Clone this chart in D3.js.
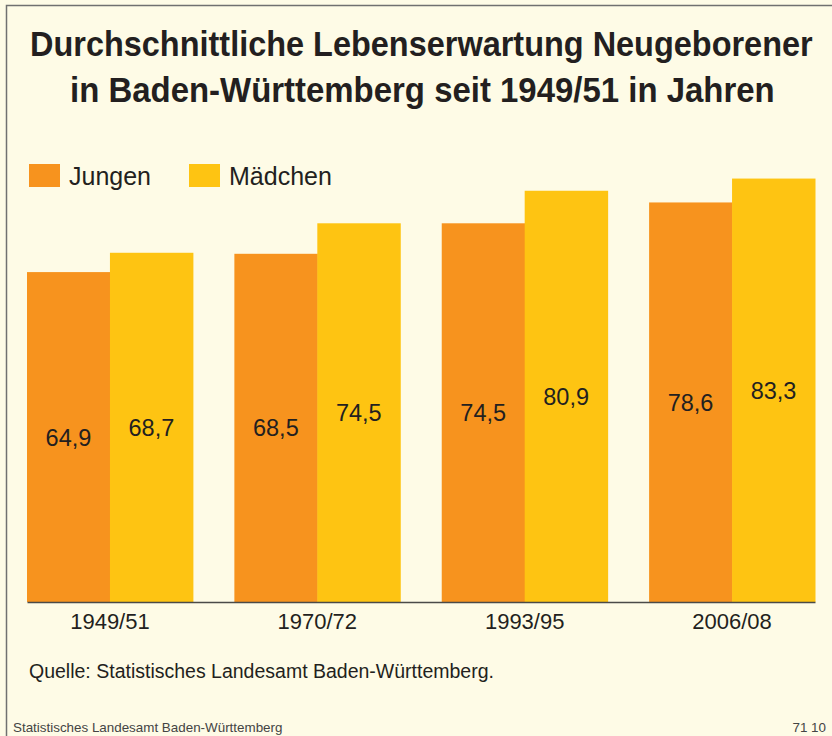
<!DOCTYPE html>
<html>
<head>
<meta charset="utf-8">
<script src="https://cdn.jsdelivr.net/npm/d3@7"></script>
<style>
  html, body { margin: 0; padding: 0; background: #fefbe6; }
  svg { display: block; font-family: "Liberation Sans", Arial, Helvetica, sans-serif; }
</style>
</head>
<body>
<div id="chart"></div>
<script>
// data
var periods = ["1949/51", "1970/72", "1993/95", "2006/08"];
var jungen = [64.9, 68.5, 74.5, 78.6];
var maedchen = [68.7, 74.5, 80.9, 83.3];
var seriesNames = ["Jungen", "Mädchen"];
var seriesColors = ["#f7931e", "#fec412"];
var titleLines = ["Durchschnittliche Lebenserwartung Neugeborener",
	"in Baden-Württemberg seit 1949/51 in Jahren"];

var W = 832, H = 736;

var svg = d3.select("#chart").append("svg")
	.attr("width", W)
	.attr("height", H);

// background + the grey frame (top and left only)
svg.append("rect").attr("width", W).attr("height", H).attr("fill", "#fefbe6");
svg.append("path")
	.attr("d", "M6.5," + H + "V5.5H" + W)
	.attr("fill", "none")
	.attr("stroke", "#707070")
	.attr("stroke-width", 1.5);

// title: bold, squeezed horizontally to look like the condensed face
var titleSpan = [[30, 813, 56], [70, 775, 102]]; // left, right, baseline
svg.append("g").attr("class", "title")
	.selectAll("text").data(titleLines).enter().append("text")
	.attr("x", 0).attr("y", 0)
	.style("font-size", "34.5px").style("font-weight", "bold").attr("fill", "#231f20")
	.text(function(d) { return d; })
	.each(function(d, i) {
		var s = titleSpan[i];
		var w = this.getComputedTextLength();
		var k = (s[1] - s[0]) / w;
		d3.select(this).attr("transform", "translate(" + s[0] + "," + s[2] + ") scale(" + k + ",1)");
	});

// legend
var legendX = [29, 189];
var legend = svg.append("g").attr("class", "legend")
	.selectAll("g").data(seriesNames).enter().append("g")
	.attr("transform", function(d, i) { return "translate(" + legendX[i] + ",164)"; });
legend.append("rect")
	.attr("width", 31).attr("height", 23)
	.attr("fill", function(d, i) { return seriesColors[i]; });
legend.append("text")
	.attr("x", 40).attr("y", 21)
	.style("font-size", "25px").attr("fill", "#231f20")
	.text(function(d) { return d; });

// scales
var x0 = d3.scaleBand().domain(periods).range([27, 815]).paddingInner(0.2).paddingOuter(0);
var x1 = d3.scaleBand().domain(seriesNames).range([0, x0.bandwidth()]);
var y = d3.scaleLinear().domain([0, 90]).range([602, 144.5]);

var rows = periods.map(function(p, i) {
	return { period: p, values: [jungen[i], maedchen[i]] };
});

var groups = svg.append("g").attr("class", "bars")
	.selectAll("g").data(rows).enter().append("g")
	.attr("transform", function(d) { return "translate(" + x0(d.period) + ",0)"; });

var bars = groups.selectAll("g").data(function(d) {
		return d.values.map(function(v, i) { return { name: seriesNames[i], value: v, i: i }; });
	}).enter().append("g");

bars.append("rect")
	.attr("x", function(d) { return x1(d.name); })
	.attr("y", function(d) { return y(d.value); })
	.attr("width", x1.bandwidth() + 0.5) // tiny overlap so no seam between the pair
	.attr("height", function(d) { return y(0) - y(d.value); })
	.attr("fill", function(d) { return seriesColors[d.i]; });

// value labels sit in the middle of each bar
bars.append("text")
	.attr("x", function(d) { return x1(d.name) + x1.bandwidth() / 2; })
	.attr("y", function(d) { return (y(0) + y(d.value)) / 2 + 8.5; })
	.attr("text-anchor", "middle")
	.style("font-size", "23.5px").attr("fill", "#231f20")
	.text(function(d) { return d3.format(".1f")(d.value).replace(".", ","); });

// x axis
var xAxis = d3.axisBottom(x0).tickSize(0).tickPadding(0);
var ax = svg.append("g").attr("class", "x axis")
	.attr("transform", "translate(0," + y(0) + ")")
	.call(xAxis);
ax.select(".domain").attr("stroke", "#4a4a48").attr("stroke-width", 1.5);
ax.selectAll(".tick text")
	.attr("dy", null).attr("y", 27)
	.style("font-size", "22px").style("font-family", "'Liberation Sans', Arial, sans-serif")
	.attr("fill", "#231f20");

// source
svg.append("text")
	.attr("x", 29).attr("y", 678)
	.style("font-size", "19.5px").attr("fill", "#231f20")
	.text("Quelle: Statistisches Landesamt Baden-Württemberg.");

// footer
svg.append("text")
	.attr("x", 13).attr("y", 732)
	.style("font-size", "13.4px").attr("fill", "#444")
	.text("Statistisches Landesamt Baden-Württemberg");
svg.append("text")
	.attr("x", 826).attr("y", 732)
	.attr("text-anchor", "end")
	.style("font-size", "13.4px").attr("fill", "#444")
	.text("71 10");
</script>
</body>
</html>
